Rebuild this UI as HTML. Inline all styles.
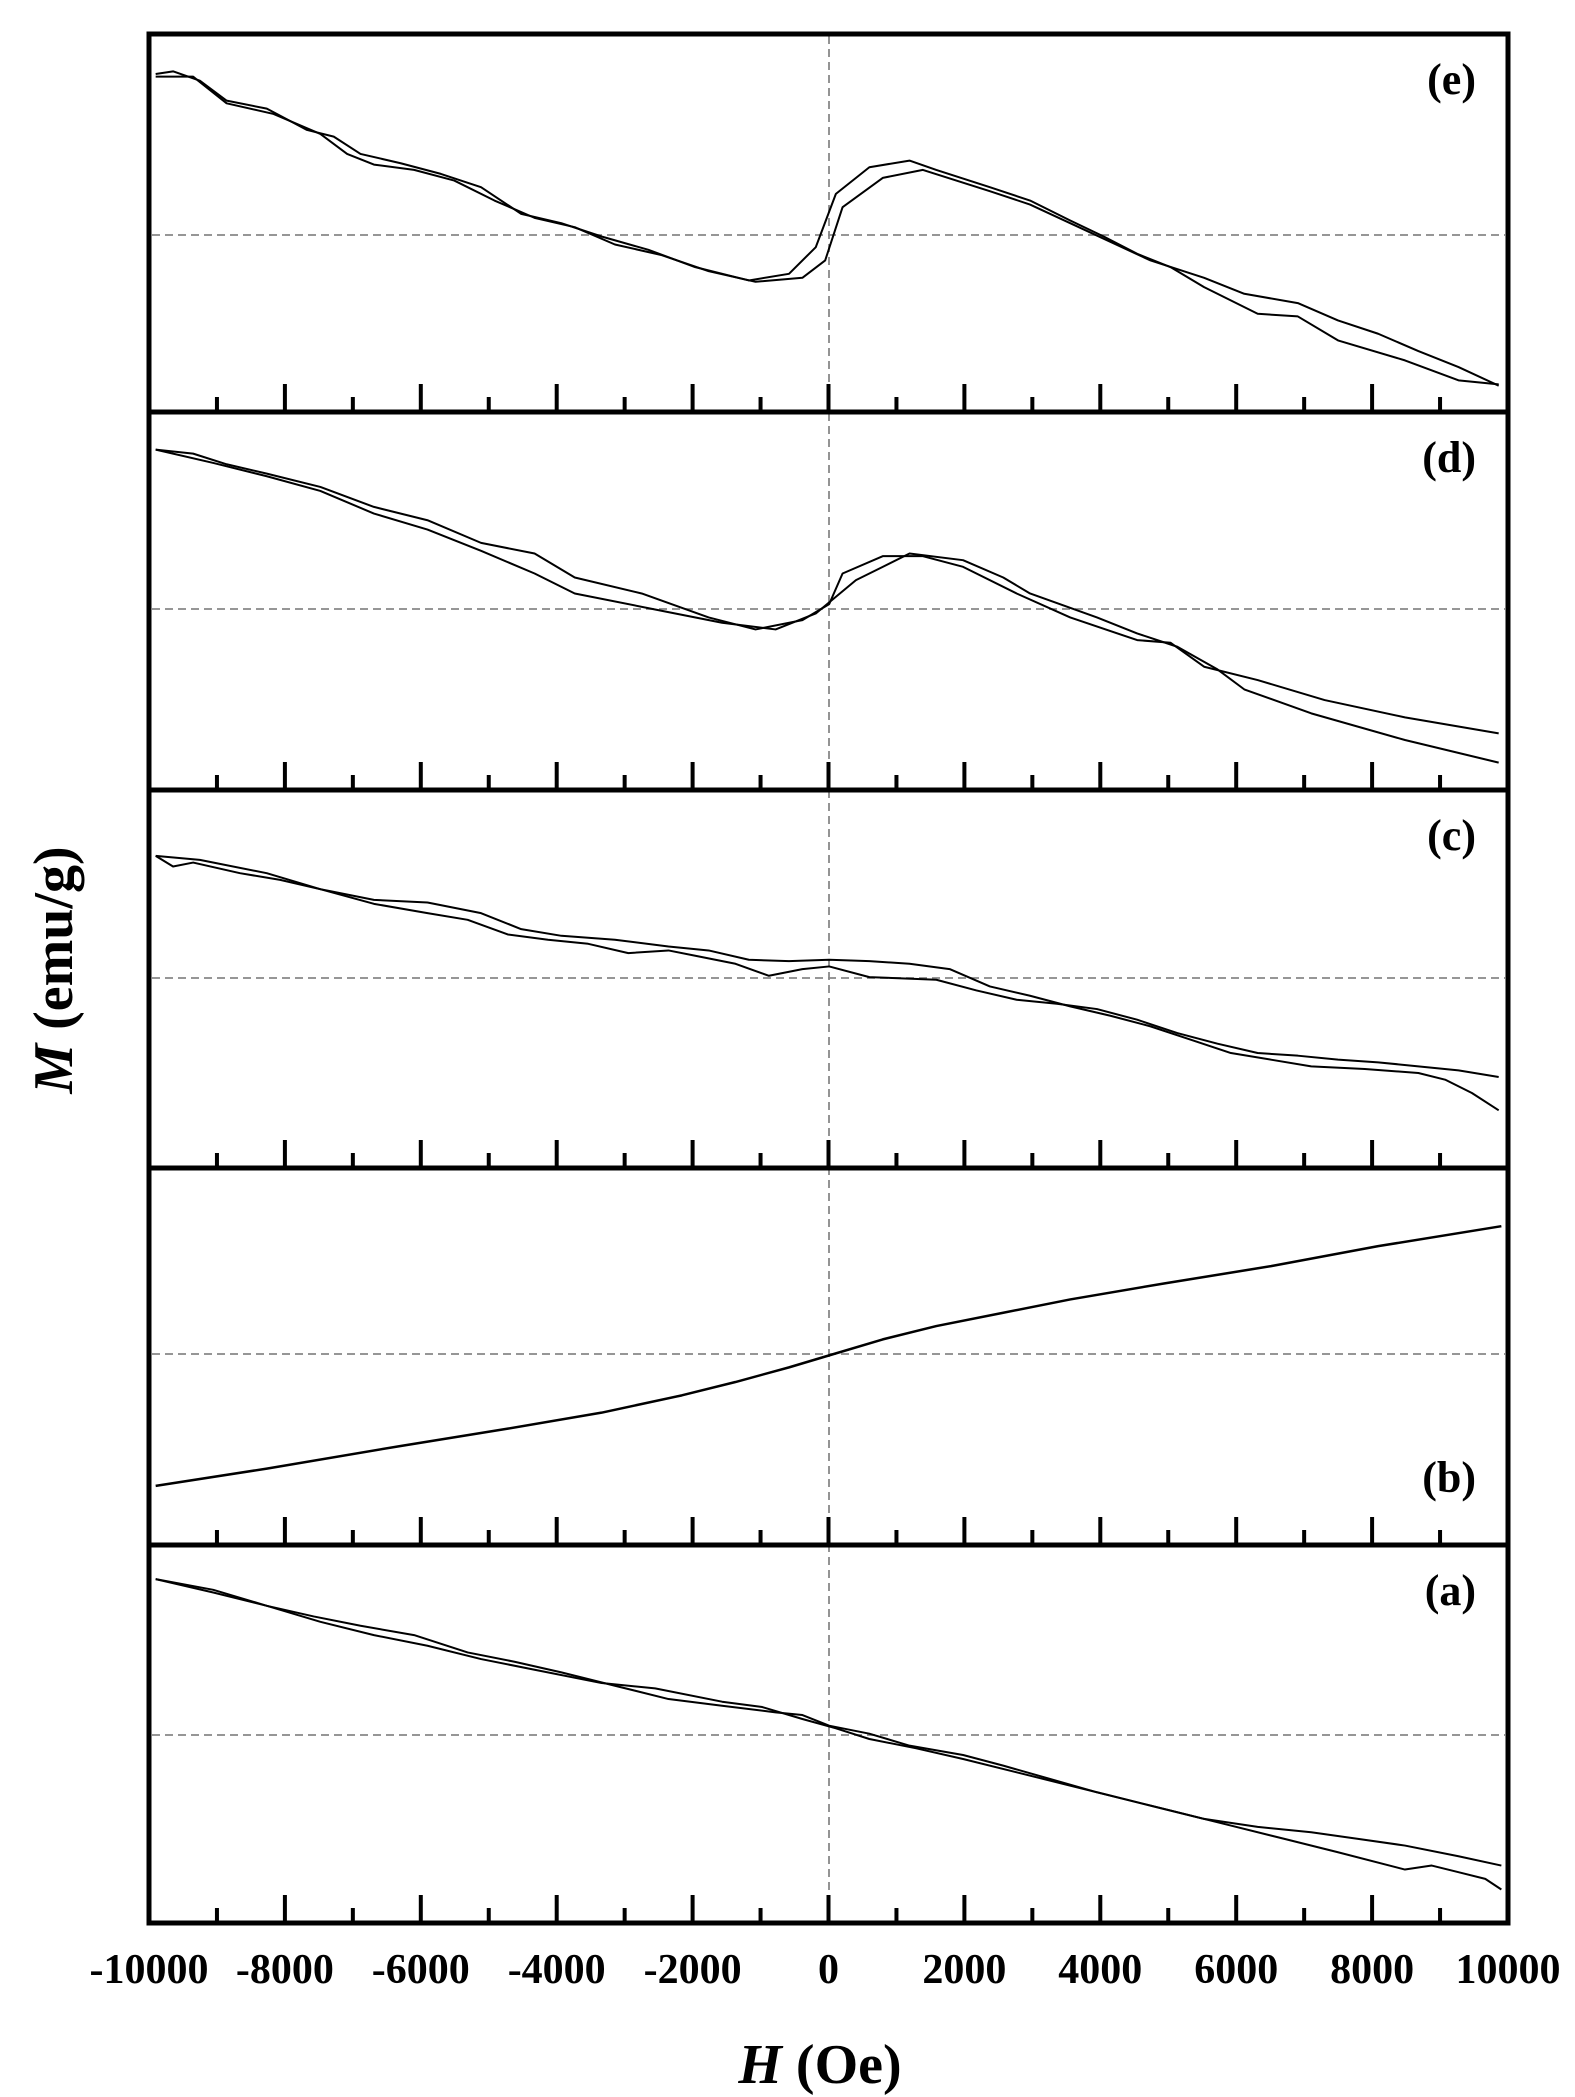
<!DOCTYPE html>
<html><head><meta charset="utf-8"><style>
html,body{margin:0;padding:0;background:#fff;}
svg{display:block;}
text{font-family:"Liberation Serif",serif;font-weight:bold;fill:#000;}
</style></head><body>
<svg width="1575" height="2097" viewBox="0 0 1575 2097" xmlns="http://www.w3.org/2000/svg">
<g stroke="#888" stroke-width="1.8" stroke-dasharray="8,5" fill="none">
<line x1="829" y1="36" x2="829" y2="1921"/>
<line x1="152" y1="235" x2="1505" y2="235"/>
<line x1="152" y1="609" x2="1505" y2="609"/>
<line x1="152" y1="978" x2="1505" y2="978"/>
<line x1="152" y1="1354" x2="1505" y2="1354"/>
<line x1="152" y1="1735" x2="1505" y2="1735"/>
</g>
<g transform="matrix(1.339,0,0,1.332,-1,7.4)" fill="none" stroke="#000" stroke-width="2" stroke-linejoin="round">
<polyline vector-effect="non-scaling-stroke" points="117,50 130,48 150,55 170,70 200,76 230,92 250,97 270,110 300,117 330,125 360,135 390,155 420,162 450,172 485,182 520,195 560,205 590,200 610,180 625,140 650,120 680,115 700,122 740,135 770,145 800,160 825,172 850,185 875,195 900,210 940,230 970,232 1000,250 1050,265 1090,280 1120,283"/>
<polyline vector-effect="non-scaling-stroke" points="117,52 145,52 170,72 205,80 240,95 260,110 280,118 310,122 340,130 370,145 400,158 430,165 460,178 495,186 530,198 565,206 600,203 617,190 630,150 660,128 690,122 740,138 770,148 800,162 830,176 860,190 900,203 930,215 970,222 1000,235 1030,245 1060,258 1090,270 1120,284"/>
<polyline vector-effect="non-scaling-stroke" points="117,332 145,335 170,343 200,350 240,360 280,375 320,385 360,402 400,410 430,428 480,440 530,458 565,467 600,460 620,448 630,425 660,412 690,412 720,420 760,440 800,458 850,475 875,477 900,495 940,505 990,520 1050,533 1120,545"/>
<polyline vector-effect="non-scaling-stroke" points="117,332 160,342 200,352 240,363 280,380 320,392 360,408 400,425 430,440 490,452 540,462 580,467 610,455 640,430 660,420 680,410 720,415 750,428 770,440 820,458 850,470 880,480 910,497 930,512 980,530 1050,550 1120,567"/>
<polyline vector-effect="non-scaling-stroke" points="117,637 130,645 145,642 180,650 210,655 240,662 280,673 320,680 350,685 380,696 410,700 440,703 470,710 500,708 520,712 550,718 575,727 600,722 620,720 650,728 700,730 730,738 760,745 790,748 820,752 850,760 880,770 910,778 940,785 970,787 1000,790 1030,792 1060,795 1090,798 1120,803"/>
<polyline vector-effect="non-scaling-stroke" points="117,637 150,640 200,650 240,662 280,670 320,672 360,680 390,692 420,697 460,700 500,705 530,708 560,715 590,716 620,715 650,716 680,718 710,722 740,735 770,742 800,750 830,757 860,765 890,775 920,785 950,790 980,795 1020,797 1060,800 1080,805 1100,815 1120,828"/>
<polyline vector-effect="non-scaling-stroke" stroke-width="2.5" points="117,1110 200,1097 300,1080 380,1067 450,1055 510,1042 550,1032 590,1021 620,1012 660,1000 700,990 750,980 800,970 870,958 950,945 1030,930 1122,915"/>
<polyline vector-effect="non-scaling-stroke" points="117,1180 160,1188 200,1200 235,1208 270,1215 310,1222 350,1235 385,1242 420,1250 460,1260 500,1270 540,1275 580,1280 600,1282 620,1290 650,1296 680,1305 720,1312 750,1320 785,1330 820,1340 860,1350 900,1360 940,1366 980,1370 1015,1375 1050,1380 1090,1388 1122,1395"/>
<polyline vector-effect="non-scaling-stroke" points="117,1180 160,1190 200,1200 240,1212 280,1222 320,1230 360,1240 400,1248 450,1258 490,1262 540,1272 570,1276 600,1285 625,1292 650,1300 685,1307 720,1315 760,1325 800,1335 840,1345 880,1355 920,1365 960,1375 1000,1385 1050,1398 1070,1395 1090,1400 1110,1405 1122,1413"/>
</g>
<g stroke="#000" stroke-width="5" fill="none">
<rect x="149" y="34" width="1359" height="1889"/>
<line x1="149" y1="412" x2="1508" y2="412"/>
<line x1="149" y1="790" x2="1508" y2="790"/>
<line x1="149" y1="1168" x2="1508" y2="1168"/>
<line x1="149" y1="1545" x2="1508" y2="1545"/>
</g>
<g id="ticks" stroke="#000" stroke-width="4"></g>
<g font-size="42" text-anchor="middle" id="lbls"></g>
<g font-size="44" text-anchor="end">
<text x="1476" y="94">(e)</text>
<text x="1476" y="472">(d)</text>
<text x="1476" y="850">(c)</text>
<text x="1476" y="1492">(b)</text>
<text x="1476" y="1605">(a)</text>
</g>
<text x="820" y="2083" font-size="56" text-anchor="middle"><tspan font-style="italic">H</tspan> (Oe)</text>
<text transform="translate(72,970) rotate(-90)" font-size="56" text-anchor="middle"><tspan font-style="italic">M</tspan> (emu/g)</text>
<script>
var ns="http://www.w3.org/2000/svg",t=document.getElementById("ticks"),l=document.getElementById("lbls");
var bots=[412,790,1168,1545,1923];
for(var i=0;i<=20;i++){var x=149+i*67.95;
 if(i>0&&i<20){for(var b=0;b<5;b++){var ln=document.createElementNS(ns,"line");ln.setAttribute("x1",x);ln.setAttribute("x2",x);ln.setAttribute("y1",bots[b]);ln.setAttribute("y2",bots[b]-(i%2==0?28:15));t.appendChild(ln);}}
 if(i%2==0){var tx=document.createElementNS(ns,"text");tx.setAttribute("x",x);tx.setAttribute("y",1983);tx.textContent=String((i-10)*1000);l.appendChild(tx);}
}
</script>
</svg>
</body></html>
